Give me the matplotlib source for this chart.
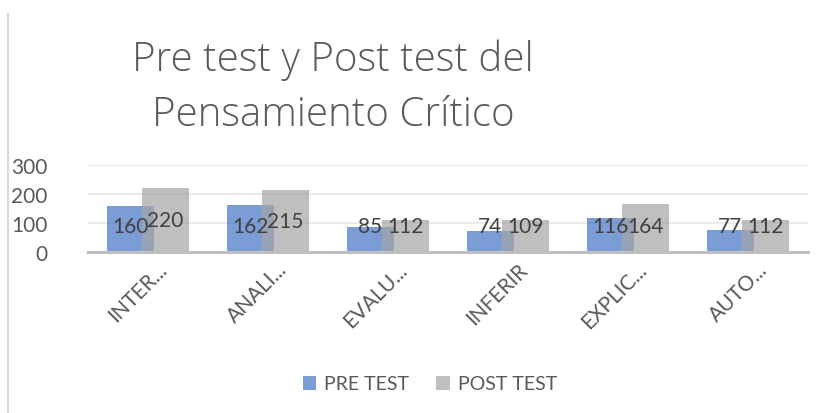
import matplotlib
matplotlib.use("Agg")
import matplotlib.pyplot as plt
import matplotlib.transforms as mtransforms
from matplotlib.patches import Patch
from matplotlib.lines import Line2D
import numpy as np

categories = ["INTER...", "ANALI...", "EVALU...", "INFERIR", "EXPLIC...", "AUTO..."]
pre_test = [160, 162, 85, 74, 116, 77]
post_test = [220, 215, 112, 109, 164, 112]
series_names = ["PRE TEST", "POST TEST"]
title = "Pre test y Post test del\nPensamiento Crítico"

plt.rcParams["font.family"] = ["Lato", "DejaVu Sans"]
text_color = "#595959"
pre_color = "#4472C4"
post_color = "#A5A5A5"

fig = plt.figure(figsize=(8.26, 4.14), dpi=100)
ax = fig.add_axes([88 / 826, 161 / 414, 720 / 826, 87 / 414])

x = np.arange(len(categories))
width = 0.39
offset = 0.146
ax.bar(x - offset, pre_test, width, color=pre_color, alpha=0.7, zorder=2)
ax.bar(x + offset, post_test, width, color=post_color, alpha=0.7, zorder=3)

# data labels, centred in the bar but kept off the axis
for xi, v in zip(x - offset, pre_test):
    ax.text(xi, max(88, v / 2), str(v), ha="center", va="center",
            fontsize=15, color="#404040", zorder=5)
for xi, v in zip(x + offset, post_test):
    ax.text(xi, max(88, v / 2), str(v), ha="center", va="center",
            fontsize=15, color="#404040", zorder=5)

ax.set_xlim(-0.5, len(categories) - 0.5)
ax.set_ylim(0, 300)
ax.set_yticks([0, 100, 200, 300])
ax.yaxis.grid(True, color="#E6E6E6", linewidth=1.2, zorder=0)
ax.set_axisbelow(True)
for s in ["top", "right", "left"]:
    ax.spines[s].set_visible(False)
ax.spines["bottom"].set_color("#BFBFBF")
ax.spines["bottom"].set_linewidth(2.2)
ax.spines["bottom"].set_zorder(4)
ax.tick_params(axis="both", length=0, labelsize=15, labelcolor=text_color)
ax.tick_params(axis="y", pad=29)

ax.set_xticks(x)
ax.set_xticklabels(categories, rotation=45, ha="right", va="top",
                   rotation_mode="anchor")
ax.tick_params(axis="x", pad=5)
shift = mtransforms.ScaledTranslation(9 / 100, 0, fig.dpi_scale_trans)
for lbl in ax.get_xticklabels():
    lbl.set_transform(lbl.get_transform() + shift)

fig.text(333 / 826, 1 - 88 / 414, title, ha="center", va="center",
         fontsize=29, family=["Open Sans", "Lato", "DejaVu Sans"], fontweight="light",
         color=text_color, linespacing=1.45)

handles = [Patch(facecolor=pre_color, alpha=0.7), Patch(facecolor=post_color, alpha=0.7)]
fig.legend(handles, series_names, loc="center", bbox_to_anchor=(430 / 826, 1 - 385 / 414),
           ncol=2, frameon=False, fontsize=14, labelcolor=text_color,
           handlelength=0.7, handleheight=0.7, handletextpad=0.4, columnspacing=1.4)

fig.add_artist(Line2D([8 / 826, 8 / 826], [0, 1 - 15 / 414], color="#D9D9D9",
                      linewidth=1.5, transform=fig.transFigure))

fig.savefig("out.png", dpi=100)
